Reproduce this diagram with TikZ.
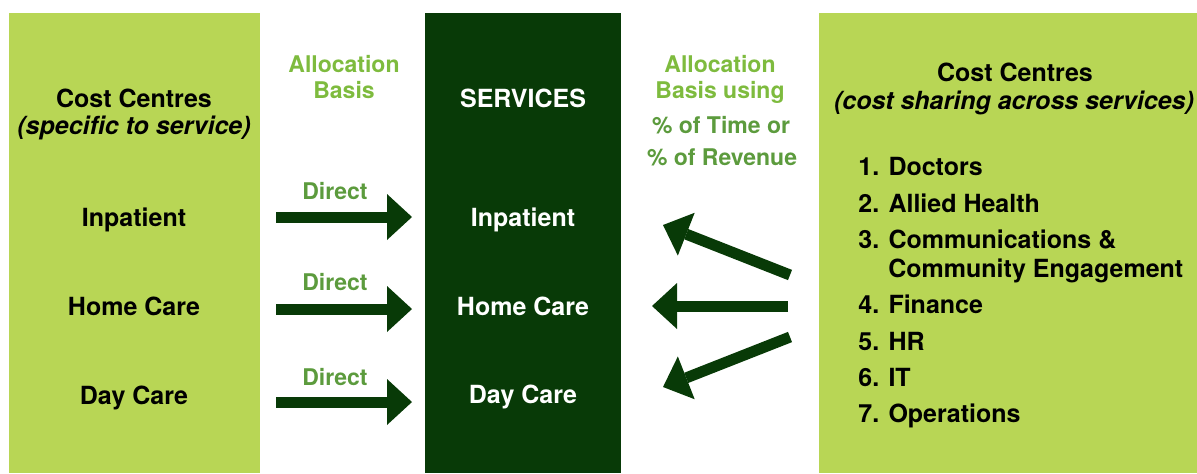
\documentclass[tikz,border=0pt]{standalone}
\usepackage{fontspec}
\setmainfont{TeX Gyre Heros}
\usetikzlibrary{arrows.meta}
\definecolor{centregreen}{HTML}{B8D655}
\definecolor{servicegreen}{HTML}{083A07}
\definecolor{basisgreen}{HTML}{7EBB3E}
\definecolor{directgreen}{HTML}{5C9B3D}

\begin{document}
\begin{tikzpicture}[
        x=0.5pt, y=-0.5pt,
        heading/.style={inner sep=0pt, anchor=base, font=\fontsize{12.5}{15}\selectfont\bfseries},
        subheading/.style={heading, font=\fontsize{12.5}{15}\selectfont\bfseries\itshape},
        item/.style={inner sep=0pt, anchor=base west, font=\fontsize{12.5}{15}\selectfont\bfseries},
        basis/.style={inner sep=0pt, anchor=base, text=basisgreen, font=\fontsize{11.5}{14}\selectfont\bfseries},
        share/.style={basis, text=directgreen},
        flow/.style={draw=servicegreen, line width=5.5pt, -{Triangle[length=12.5pt, width=23pt, line width=0pt]}}
    ]
    \useasboundingbox (0,0) rectangle (1197,473);

    % Panels
    \fill[centregreen] (9,13) rectangle (260,473);
    \fill[servicegreen] (425,13) rectangle (621,473);
    \fill[centregreen] (819,13) rectangle (1197,473);

    % Specific cost centres
    \node[heading] (spectitle) at (134,107) {Cost Centres};
    \node[subheading] (specsub) at (134,134) {(specific to service)};
    \node[heading] (specin) at (134,226) {Inpatient};
    \node[heading] (spechome) at (134,315) {Home Care};
    \node[heading] (specday) at (134,404) {Day Care};

    % Services
    \node[heading, text=white] (services) at (523,107) {SERVICES};
    \node[heading, text=white] (servin) at (523,226) {Inpatient};
    \node[heading, text=white] (servhome) at (523,315) {Home Care};
    \node[heading, text=white] (servday) at (523,403) {Day Care};

    % Shared cost centres
    \node[heading] (sharetitle) at (1015,81) {Cost Centres};
    \node[subheading] (sharesub) at (1014,109) {(cost sharing across services)};
    \node[item] (doctors) at (858,175) {1. Doctors};
    \node[item] (allied) at (858,212) {2. Allied Health};
    \node[item] (comms) at (858,248) {3. Communications \&};
    \node[item] (community) at (888,277) {Community Engagement};
    \node[item] (finance) at (858,313) {4. Finance};
    \node[item] (hr) at (858,350) {5. HR};
    \node[item] (it) at (858,386) {6. IT};
    \node[item] (operations) at (858,422) {7. Operations};

    % Allocation basis labels
    \node[basis] (directhead) at (344,72) {Allocation};
    \node[basis] (directbasis) at (344,98) {Basis};
    \node[basis] (sharehead) at (720,72) {Allocation};
    \node[basis] (sharebasis) at (720,98) {Basis using};
    \node[share] (time) at (721,133) {\% of Time or};
    \node[share] (revenue) at (722,165) {\% of Revenue};

    % Direct arrows
    \coordinate (inout) at (276,217);
    \coordinate (inend) at (412,217);
    \coordinate (homeout) at (276,309);
    \coordinate (homeend) at (412,309);
    \coordinate (dayout) at (276,402);
    \coordinate (dayend) at (412,402);
    \draw[flow] (inout) -- (inend);
    \draw[flow] (homeout) -- (homeend);
    \draw[flow] (dayout) -- (dayend);
    \node[share] (directin) at (335,199) {Direct};
    \node[share] (directhome) at (335,290) {Direct};
    \node[share] (directday) at (335,385) {Direct};

    % Shared arrows
    \coordinate (sharetop) at (790,275);
    \coordinate (sharemid) at (788,306);
    \coordinate (sharelow) at (790,337);
    \coordinate (toin) at (663,225);
    \coordinate (tohome) at (652,306);
    \coordinate (today) at (663,387);
    \draw[flow] (sharetop) -- (toin);
    \draw[flow] (sharemid) -- (tohome);
    \draw[flow] (sharelow) -- (today);

\end{tikzpicture}
\end{document}
